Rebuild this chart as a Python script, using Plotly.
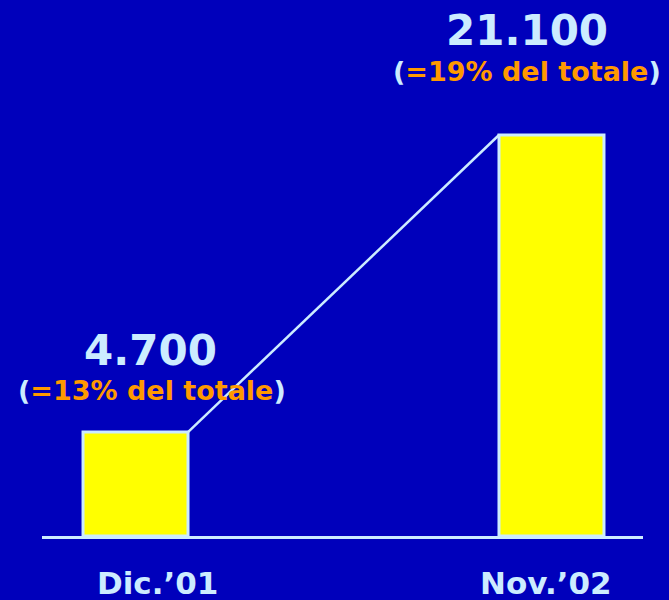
import plotly.graph_objects as go

categories = ["Dic.’01", "Nov.’02"]
values = [4700, 21100]
value_labels = ["4.700", "21.100"]
share_labels = ["=13% del totale", "=19% del totale"]

BASE = -1040          # value at the drawn baseline (bars start here)
BAR_W = 0.2524
BG = "#0000BB"
LIGHT = "#CCECFF"
ORANGE = "#FF9900"
FONT = "DejaVu Sans"

xs = list(range(len(categories)))

fig = go.Figure()
fig.add_trace(go.Bar(
    x=xs, y=[v - BASE for v in values], base=BASE, width=BAR_W,
    marker=dict(color="#FFFF00", line=dict(color=LIGHT, width=3)),
    hoverinfo="skip",
))
fig.add_trace(go.Scatter(
    x=[xs[0] + BAR_W / 2, xs[1] - BAR_W / 2], y=values, mode="lines",
    line=dict(color=LIGHT, width=2.5), hoverinfo="skip",
))

val_shift = [(15, 82), (-24, 105)]
share_shift = [(16, 42), (-24, 64)]
cat_shift = [22, -5]
for i in xs:
    fig.add_annotation(x=i, y=values[i], xref="x", yref="y", text=value_labels[i],
                       showarrow=False, xshift=val_shift[i][0], yshift=val_shift[i][1],
                       yanchor="middle", font=dict(family=FONT, size=42, color=LIGHT, weight="bold"))
    fig.add_annotation(x=i, y=values[i], xref="x", yref="y",
                       text=f'<span style="color:{LIGHT}">(</span>{share_labels[i]}<span style="color:{LIGHT}">)</span>',
                       showarrow=False, xshift=share_shift[i][0], yshift=share_shift[i][1],
                       yanchor="middle", font=dict(family=FONT, size=27, color=ORANGE, weight="bold"))
    fig.add_annotation(x=i, y=0, xref="x", yref="paper", text=categories[i],
                       showarrow=False, xshift=cat_shift[i], yshift=-47, yanchor="middle",
                       font=dict(family=FONT, size=31, color=LIGHT, weight="bold"))

fig.update_layout(
    width=669, height=600, showlegend=False,
    paper_bgcolor=BG, plot_bgcolor=BG,
    margin=dict(l=42, r=26, t=0, b=64),
    xaxis=dict(range=[-0.2248, 1.2200], showgrid=False, zeroline=False,
               showticklabels=False, showline=True, linecolor=LIGHT, linewidth=2.5),
    yaxis=dict(range=[BASE, 28554], visible=False, showgrid=False, zeroline=False),
)
fig.write_html("out.html", config={"displayModeBar": False},
               post_script="document.body.style.margin='0';document.body.style.background='#0000BB';")
